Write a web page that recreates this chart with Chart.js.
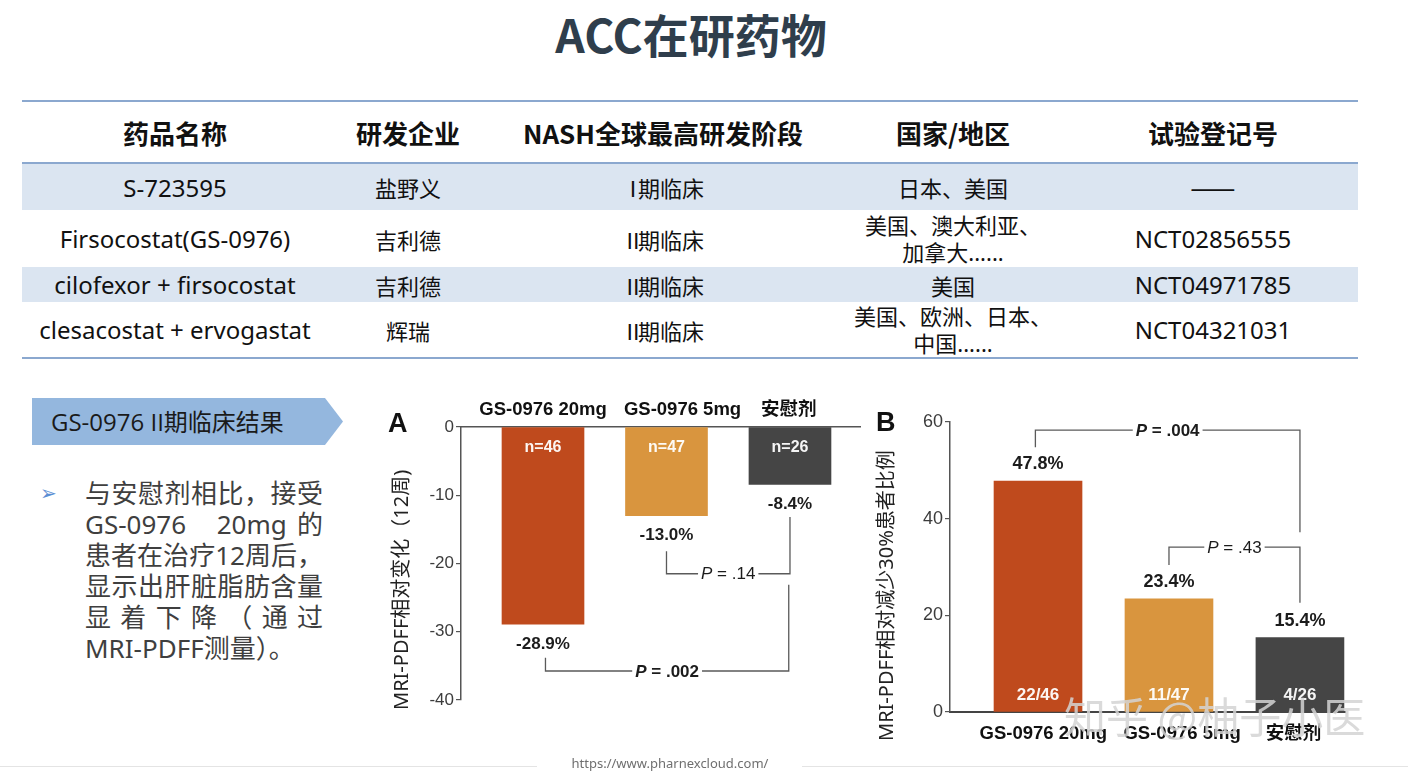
<!DOCTYPE html>
<html><head><meta charset="utf-8">
<script src="https://cdn.jsdelivr.net/npm/chart.js@4.4.1/dist/chart.umd.min.js"></script>
<style>
html,body{margin:0;padding:0;background:#fff;}
body{width:1408px;height:775px;position:relative;overflow:hidden;font-family:"Noto Sans","Noto Sans CJK SC",sans-serif;color:#1a1a1a;}
.title{position:absolute;left:0;width:1382px;top:10px;line-height:46px;text-align:center;font-weight:700;font-size:46px;font-family:"Noto Sans CJK SC",sans-serif;color:#2f3e4c;}
.hline{position:absolute;left:22px;width:1336px;height:2px;background:#8ba8cf;}
.row{position:absolute;left:22px;width:1336px;display:grid;grid-template-columns:306px 160px 350px 230px 290px;align-items:center;text-align:center;font-size:22px;font-family:"Noto Sans","Noto Sans CJK SC",sans-serif;color:#111;}
.row.hd{font-weight:700;font-size:26px;font-family:"Noto Sans CJK SC",sans-serif;}
.row.bg{background:#dbe5f1;}
.lat{font-size:24px;}
.cjk{font-family:"Noto Sans CJK SC",sans-serif;}
.rn{margin-right:-6px;}
.dash{font-family:"Noto Sans CJK SC",sans-serif;font-size:27px;line-height:30px;}
.two{line-height:27px;}
.tag{position:absolute;left:32px;top:398px;width:311px;height:47px;background:#94b7de;clip-path:polygon(0 0,293px 0,311px 50%,293px 100%,0 100%);}
.tag span{position:absolute;left:19px;top:0;line-height:47px;font-size:24px;color:#1a1a1a;white-space:nowrap;font-family:"Open Sans","Noto Sans CJK SC",sans-serif;}
.bul{position:absolute;left:40px;top:478px;font-size:20px;line-height:30px;color:#5b8ed3;font-family:"DejaVu Sans",sans-serif;}
.txt{position:absolute;left:85px;top:478px;width:238px;font-size:26px;line-height:31px;color:#3f3f3f;font-family:"Noto Sans","Noto Sans CJK SC",sans-serif;}
.txt div{text-align:justify;text-align-last:justify;white-space:nowrap;}
.txt div.last{text-align-last:left;}
.lbl{position:absolute;font:700 27px "Liberation Sans",Arial,sans-serif;color:#111;line-height:27px;}
canvas{position:absolute;}
.wm{position:absolute;left:1064px;top:690px;font-size:42px;line-height:50px;color:rgba(212,212,212,0.85);font-family:"Noto Sans CJK SC",sans-serif;white-space:nowrap;}
.url{position:absolute;left:0;width:1340px;top:754px;text-align:center;font-size:13px;color:#6f6f6f;}
.fl{position:absolute;top:766px;height:1px;background:#e4e4e4;}
</style></head>
<body>
<div class="title">ACC在研药物</div>

<div class="hline" style="top:100px"></div>
<div class="row hd" style="top:102px;height:60px"><div>药品名称</div><div>研发企业</div><div>NASH全球最高研发阶段</div><div>国家/地区</div><div>试验登记号</div></div>
<div class="hline" style="top:162px"></div>
<div class="row bg" style="top:164px;height:46px"><div class="lat">S-723595</div><div>盐野义</div><div class="cjk"><span class="rn">Ⅰ</span>期临床</div><div>日本、美国</div><div class="dash">——</div></div>
<div class="row" style="top:210px;height:57px"><div class="lat">Firsocostat(GS-0976)</div><div>吉利德</div><div class="cjk"><span class="rn">Ⅱ</span>期临床</div><div class="two">美国、澳大利亚、<br>加拿大......</div><div class="lat">NCT02856555</div></div>
<div class="row bg" style="top:267px;height:35px"><div class="lat">cilofexor + firsocostat</div><div>吉利德</div><div class="cjk"><span class="rn">Ⅱ</span>期临床</div><div>美国</div><div class="lat">NCT04971785</div></div>
<div class="row" style="top:302px;height:55px"><div class="lat">clesacostat + ervogastat</div><div>辉瑞</div><div class="cjk"><span class="rn">Ⅱ</span>期临床</div><div class="two">美国、欧洲、日本、<br>中国......</div><div class="lat">NCT04321031</div></div>
<div class="hline" style="top:357px"></div>

<div class="tag"><span>GS-0976 II期临床结果</span></div>
<div class="bul">➢</div>
<div class="txt">
<div>与安慰剂相比，接受</div>
<div>GS-0976 &nbsp; 20mg 的</div>
<div>患者在治疗12周后，</div>
<div>显示出肝脏脂肪含量</div>
<div>显 着 下 降 （ 通 过</div>
<div class="last">MRI-PDFF测量）。</div>
</div>

<canvas id="cA" width="490" height="330" style="left:380px;top:390px;width:490px;height:330px"></canvas>
<canvas id="cB" width="510" height="360" style="left:860px;top:395px;width:510px;height:360px"></canvas>
<div class="lbl" style="left:388px;top:410px">A</div>
<div class="lbl" style="left:876px;top:409px">B</div>
<div class="wm">知乎 @柚子小医</div>

<div class="fl" style="left:0;width:537px"></div>
<div class="fl" style="left:802px;width:606px"></div>
<div class="url">https://www.pharnexcloud.com/</div>

<script>
// ---- data ----
const groups = ['GS-0976 20mg', 'GS-0976 5mg', '安慰剂'];
const changeA = [-28.9, -13.0, -8.4];
const countsA = ['n=46', 'n=47', 'n=26'];
const responseB = [47.8, 23.4, 15.4];
const fractionsB = ['22/46', '11/47', '4/26'];
const ticksA = [0, -10, -20, -30, -40];
const ticksB = [0, 20, 40, 60];
const pLabelsA = [' = .14', ' = .002'];
const pLabelsB = [' = .004', ' = .43'];
const barColors = ['#bf4a1d', '#d9953e', '#454545'];

// layout constants (where the group labels sit along each x axis, in group units)
const labelSlotsA = [0, 1.13, 1.99];
const labelSlotsB = [0.04, 1.10, 1.95];

const FAM = '"Liberation Sans", Arial, "Noto Sans CJK SC", sans-serif';
Chart.defaults.font.family = FAM;

const annot = {
  id: 'annot',
  afterDraw(chart, args, o) {
    const {ctx, chartArea} = chart;
    const xs = chart.scales.x, ys = chart.scales.y;
    const meta = chart.getDatasetMeta(0);
    ctx.save();
    ctx.textAlign = 'center';
    ctx.textBaseline = 'middle';
    meta.data.forEach((bar, i) => {
      ctx.fillStyle = 'rgba(255,255,255,0.95)';
      ctx.font = o.innerFont;
      ctx.fillText(o.inner[i], bar.x, bar.base + o.innerOffset);
      ctx.fillStyle = '#1c1c1c';
      ctx.font = o.valueFont;
      ctx.fillText(o.values[i], bar.x, bar.y + o.valueOffset);
    });
    ctx.strokeStyle = '#5a5a5a';
    ctx.lineWidth = 1.3;
    o.brackets.forEach(b => {
      const x1 = xs.getPixelForValue(b.from), x2 = xs.getPixelForValue(b.to);
      const yl = ys.getPixelForValue(b.y), y1 = ys.getPixelForValue(b.fromEnd), y2 = ys.getPixelForValue(b.toEnd);
      const w = b.bold ? '700' : '400';
      const fI = `italic ${w} ${o.pSize}px ${FAM}`, fR = `${w} ${o.pSize}px ${FAM}`;
      ctx.font = fI; const wP = ctx.measureText('P').width;
      ctx.font = fR; const wR = ctx.measureText(b.text).width;
      const tw = wP + wR, cx = (x1 + x2) / 2, sx = cx - tw / 2;
      ctx.beginPath();
      ctx.moveTo(x1, y1); ctx.lineTo(x1, yl); ctx.lineTo(sx - 3, yl);
      ctx.moveTo(sx + tw + 3, yl); ctx.lineTo(x2, yl); ctx.lineTo(x2, y2);
      ctx.stroke();
      ctx.fillStyle = '#1c1c1c';
      ctx.textAlign = 'left';
      ctx.font = fI; ctx.fillText('P', sx, yl + 1);
      ctx.font = fR; ctx.fillText(b.text, sx + wP, yl + 1);
      ctx.textAlign = 'center';
    });
    // rotated y-axis title
    ctx.translate(o.titleX, chartArea.bottom + o.titleBottom);
    ctx.rotate(-Math.PI / 2);
    ctx.textAlign = 'left';
    ctx.fillStyle = '#222';
    ctx.font = `400 20px "Noto Sans", "Noto Sans CJK SC", sans-serif`;
    ctx.fillText(o.title, 0, 0);
    ctx.restore();
  }
};

new Chart(document.getElementById('cA'), {
  type: 'bar',
  data: { datasets: [{ data: groups.map((g, i) => ({x: i, y: changeA[i]})), backgroundColor: barColors, barThickness: 82, borderWidth: 0 }] },
  options: {
    responsive: false, animation: false,
    layout: { padding: { left: 0, right: 10, top: 0, bottom: 20 } },
    plugins: {
      legend: { display: false }, tooltip: { enabled: false },
      annot: {
        inner: countsA, innerOffset: 20, innerFont: `700 16px ${FAM}`,
        values: changeA.map(v => v.toFixed(1) + '%'), valueOffset: 20, valueFont: `700 17px ${FAM}`,
        pSize: 17,
        brackets: [
          { from: 1, to: 2, y: -21.5, fromEnd: -18.2, toEnd: -13.2, text: pLabelsA[0], bold: false },
          { from: 0.02, to: 1.99, y: -35.75, fromEnd: -33.8, toEnd: -23.1, text: pLabelsA[1], bold: true }
        ],
        title: 'MRI-PDFF相对变化（12周)', titleX: 22, titleBottom: 10
      }
    },
    scales: {
      x: {
        type: 'linear', position: 'top', min: -0.664, max: 2.567, offset: false,
        afterBuildTicks: s => { s.ticks = labelSlotsA.map(v => ({ value: v })); },
        afterFit: s => { s.height = 37; },
        grid: { display: false, offset: false },
        border: { display: true, color: '#555', width: 1.5 },
        ticks: { autoSkip: false, maxRotation: 0, padding: -2, color: '#111', font: { size: 18.5, weight: '700' }, callback: (v, i) => groups[i] }
      },
      y: {
        min: -40, max: 0,
        afterBuildTicks: s => { s.ticks = ticksA.map(v => ({ value: v })); },
        afterFit: s => { s.width = 81; },
        grid: { drawOnChartArea: false, drawTicks: true, tickLength: 5, color: '#555', lineWidth: 1.2 },
        border: { display: true, color: '#555', width: 1.5 },
        ticks: { padding: 2, color: '#3c3c3c', font: { size: 17 } }
      }
    }
  },
  plugins: [annot]
});

new Chart(document.getElementById('cB'), {
  type: 'bar',
  data: { datasets: [{ data: groups.map((g, i) => ({x: i, y: responseB[i]})), backgroundColor: barColors, barThickness: 88, borderWidth: 0 }] },
  options: {
    responsive: false, animation: false,
    layout: { padding: { left: 0, right: 25, top: 27, bottom: 0 } },
    plugins: {
      legend: { display: false }, tooltip: { enabled: false },
      annot: {
        inner: fractionsB, innerOffset: -16, innerFont: `700 17px ${FAM}`,
        values: responseB.map(v => v.toFixed(1) + '%'), valueOffset: -17, valueFont: `700 18px ${FAM}`,
        pSize: 17,
        brackets: [
          { from: -0.02, to: 2, y: 58.3, fromEnd: 54.8, toEnd: 37.2, text: pLabelsB[0], bold: true },
          { from: 1, to: 2, y: 34.1, fromEnd: 30.4, toEnd: 22.6, text: pLabelsB[1], bold: false }
        ],
        title: 'MRI-PDFF相对减少30%患者比例', titleX: 27, titleBottom: 29
      }
    },
    scales: {
      x: {
        type: 'linear', position: 'bottom', min: -0.672, max: 2.344, offset: false,
        afterBuildTicks: s => { s.ticks = labelSlotsB.map(v => ({ value: v })); },
        afterFit: s => { s.height = 43; },
        grid: { display: false, offset: false },
        border: { display: true, color: '#444', width: 2 },
        ticks: { autoSkip: false, maxRotation: 0, padding: 3, color: '#111', font: { size: 18.5, weight: '700' }, callback: (v, i) => groups[i] }
      },
      y: {
        min: 0, max: 60,
        afterBuildTicks: s => { s.ticks = ticksB.map(v => ({ value: v })); },
        afterFit: s => { s.width = 90; },
        grid: { drawOnChartArea: false, drawTicks: true, tickLength: 5, color: '#555', lineWidth: 1.2 },
        border: { display: true, color: '#555', width: 1.5 },
        ticks: { padding: 2, color: '#3c3c3c', font: { size: 18 } }
      }
    }
  },
  plugins: [annot]
});
</script>
</body></html>
